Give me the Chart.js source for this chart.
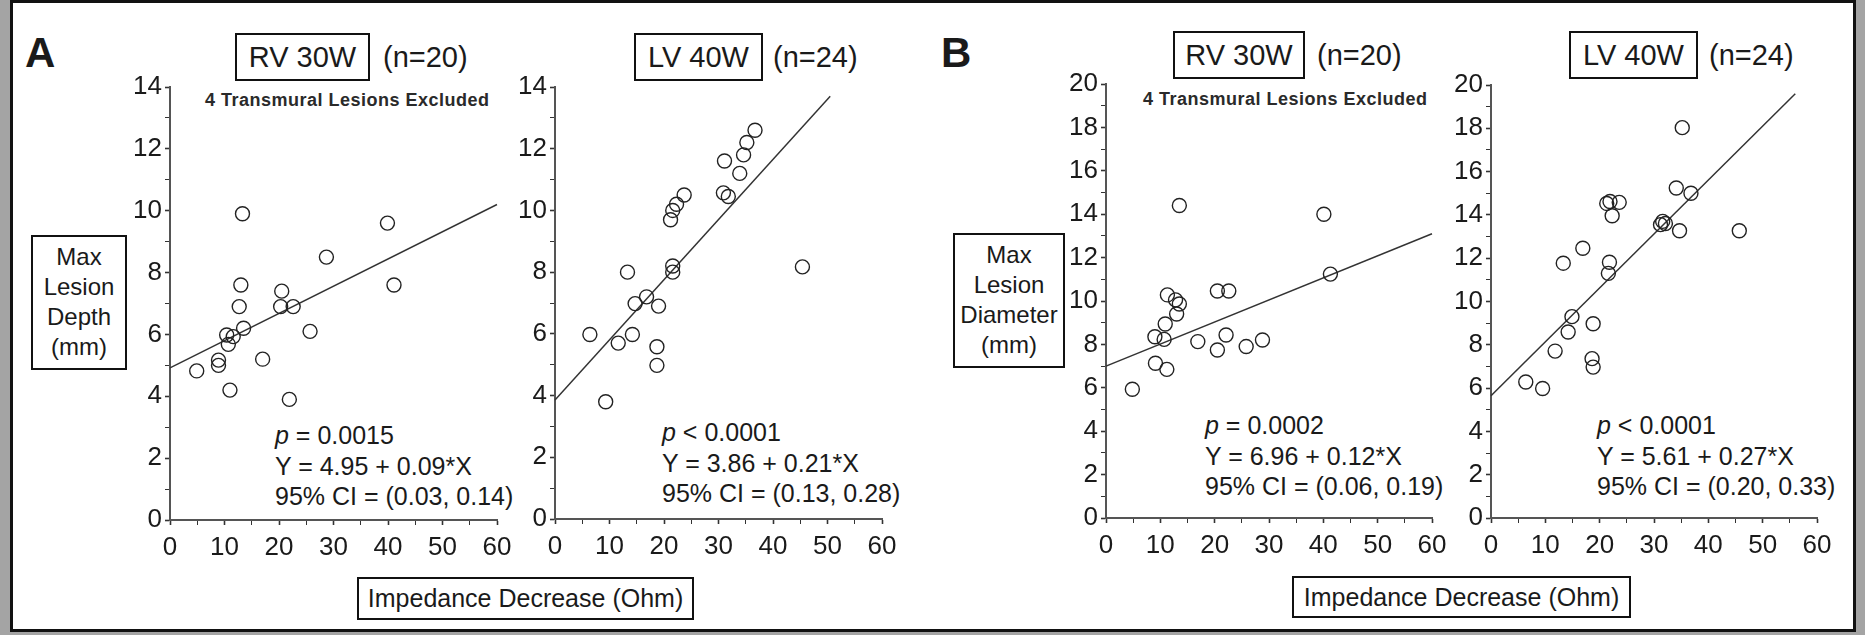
<!DOCTYPE html>
<html>
<head>
<meta charset="utf-8">
<script src="https://cdn.jsdelivr.net/npm/chart.js@4.4.1/dist/chart.umd.min.js"></script>
<style>
  html, body { margin: 0; padding: 0; }
  body { width: 1865px; height: 635px; background: #a4a4a4; position: relative; overflow: hidden;
         font-family: "Liberation Sans", Arial, sans-serif; color: #1a1a1a; }
  .frame { position: absolute; left: 10px; top: 0; width: 1846px; height: 632px; background: #fff;
           border: 3px solid #111; box-sizing: border-box; }
  .abs { position: absolute; white-space: nowrap; }
  .box { position: absolute; border: 2px solid #111; box-sizing: border-box; text-align: center; white-space: nowrap; }
  .title { font-size: 29px; line-height: 44px; }
  .n { font-size: 29px; line-height: 48px; height: 48px; }
  .letter { font-size: 42px; font-weight: bold; line-height: 42px; }
  .excl { font-size: 18px; font-weight: bold; line-height: 20px; letter-spacing: 0.5px; color: #2a2a2a; }
  .ytitle { font-size: 24px; line-height: 30px; padding-top: 5px; }
  .xtitle { font-size: 25px; line-height: 39px; }
  .stats { font-size: 25px; line-height: 30.5px; }
  canvas { position: absolute; }
</style>
</head>
<body>
<div class="frame"></div>

<div class="abs letter" style="left:25px; top:32px;">A</div>
<div class="abs letter" style="left:941px; top:32px;">B</div>

<div class="box title" style="left:235px; top:33px; width:135px; height:48px;">RV 30W</div>
<div class="abs n" style="left:383px; top:33px;">(n=20)</div>
<div class="box title" style="left:634px; top:33px; width:129px; height:48px;">LV 40W</div>
<div class="abs n" style="left:773px; top:33px;">(n=24)</div>
<div class="box title" style="left:1173px; top:31px; width:132px; height:48px;">RV 30W</div>
<div class="abs n" style="left:1317px; top:31px;">(n=20)</div>
<div class="box title" style="left:1569px; top:31px; width:129px; height:48px;">LV 40W</div>
<div class="abs n" style="left:1709px; top:31px;">(n=24)</div>

<div class="abs excl" style="left:205px; top:90px;">4 Transmural Lesions Excluded</div>
<div class="abs excl" style="left:1143px; top:89px;">4 Transmural Lesions Excluded</div>

<div class="box ytitle" style="left:31px; top:235px; width:96px; height:135px;">Max<br>Lesion<br>Depth<br>(mm)</div>
<div class="box ytitle" style="left:953px; top:233px; width:112px; height:135px;">Max<br>Lesion<br>Diameter<br>(mm)</div>

<div class="box xtitle" style="left:357px; top:577px; width:337px; height:43px;">Impedance Decrease (Ohm)</div>
<div class="box xtitle" style="left:1292px; top:576px; width:339px; height:42px;">Impedance Decrease (Ohm)</div>

<div class="abs stats" style="left:275px; top:420px;"><i>p</i> = 0.0015<br>Y = 4.95 + 0.09*X<br>95% CI = (0.03, 0.14)</div>
<div class="abs stats" style="left:662px; top:417px;"><i>p</i> &lt; 0.0001<br>Y = 3.86 + 0.21*X<br>95% CI = (0.13, 0.28)</div>
<div class="abs stats" style="left:1205px; top:410px;"><i>p</i> = 0.0002<br>Y = 6.96 + 0.12*X<br>95% CI = (0.06, 0.19)</div>
<div class="abs stats" style="left:1597px; top:410px;"><i>p</i> &lt; 0.0001<br>Y = 5.61 + 0.27*X<br>95% CI = (0.20, 0.33)</div>

<script>
// A: RV 30W, max lesion depth (mm) vs impedance decrease (Ohm)
const aRvImp   = [13.3, 39.9, 28.7, 13.0, 41.1, 20.5, 12.7, 20.3, 22.6, 13.5, 25.7, 10.4, 11.6, 10.7, 4.9, 8.9, 8.9, 11.0, 17.0, 21.9];
const aRvDepth = [9.9, 9.6, 8.5, 7.6, 7.6, 7.4, 6.9, 6.9, 6.9, 6.2, 6.1, 5.98, 5.93, 5.68, 4.82, 5.17, 5.0, 4.2, 5.2, 3.9];
const aRvFitX  = [0, 60];
const aRvFitY  = [4.92, 10.2];

// A: LV 40W
const aLvImp   = [36.7, 35.2, 34.6, 31.1, 33.9, 30.9, 31.8, 23.7, 22.3, 21.6, 21.2, 21.6, 21.6, 13.3, 45.4, 14.7, 16.8, 19.0, 6.4, 11.6, 14.2, 18.7, 18.7, 9.3];
const aLvDepth = [12.6, 12.2, 11.8, 11.6, 11.2, 10.57, 10.45, 10.5, 10.2, 10.0, 9.7, 8.2, 8.0, 8.0, 8.17, 6.98, 7.2, 6.9, 5.98, 5.7, 5.98, 5.58, 4.98, 3.8];
const aLvFitX  = [0, 50.5];
const aLvFitY  = [3.86, 13.7];

// B: RV 30W, max lesion diameter (mm)
const bRvImp   = [13.5, 40.1, 41.3, 20.5, 22.6, 11.3, 12.8, 13.5, 13.0, 10.9, 9.0, 10.7, 16.9, 22.1, 20.5, 25.8, 28.8, 9.1, 11.2, 4.85];
const bRvDiam  = [14.4, 14.0, 11.24, 10.46, 10.46, 10.28, 10.05, 9.86, 9.4, 8.94, 8.35, 8.23, 8.13, 8.43, 7.74, 7.9, 8.2, 7.13, 6.85, 5.93];
const bRvFitX  = [0, 60];
const bRvFitY  = [7.0, 13.1];

// B: LV 40W
const bLvImp   = [35.2, 34.1, 36.8, 21.3, 21.9, 23.6, 22.3, 31.2, 31.6, 32.1, 34.7, 45.7, 16.9, 13.3, 21.8, 21.6, 14.9, 14.2, 18.8, 11.8, 18.6, 18.8, 6.4, 9.5];
const bLvDiam  = [18.03, 15.24, 15.0, 14.53, 14.62, 14.58, 13.96, 13.55, 13.7, 13.6, 13.27, 13.27, 12.46, 11.77, 11.81, 11.3, 9.3, 8.59, 8.97, 7.71, 7.36, 6.97, 6.28, 5.98];
const bLvFitX  = [0, 56];
const bLvFitY  = [5.65, 19.6];

const xTicksMax = 60;

Chart.defaults.font.family = '"Liberation Sans", Arial, sans-serif';
Chart.defaults.color = '#1a1a1a';

const Y_W = 70, X_H = 50, PAD_T = 20, PAD_R = 30;

function toPoints(xs, ys) {
  return xs.map((x, i) => ({ x: x, y: ys[i] }));
}

function makePanel(area, xs, ys, fitX, fitY, yMax) {
  // area = [left, top, right, bottom] of the plot box on the page
  const canvas = document.createElement('canvas');
  const w = Y_W + (area[2] - area[0]) + PAD_R;
  const h = PAD_T + (area[3] - area[1]) + X_H;
  canvas.width = w;
  canvas.height = h;
  canvas.style.left = (area[0] - Y_W) + 'px';
  canvas.style.top = (area[1] - PAD_T) + 'px';
  document.body.appendChild(canvas);

  const axisGrid = {
    drawOnChartArea: false,
    drawTicks: true,
    tickLength: 5,
    color: '#333',
  };

  new Chart(canvas, {
    type: 'scatter',
    data: {
      datasets: [{
        data: toPoints(xs, ys),
        pointStyle: 'circle',
        pointRadius: 7,
        borderWidth: 1.4,
        borderColor: '#222',
        backgroundColor: 'rgba(0,0,0,0)',
        clip: false,
      }, {
        type: 'line',
        data: toPoints(fitX, fitY),
        borderColor: '#333',
        borderWidth: 1.5,
        pointRadius: 0,
        fill: false,
        clip: false,
      }]
    },
    options: {
      responsive: false,
      animation: false,
      events: [],
      layout: { padding: { top: PAD_T, right: PAD_R, left: 0, bottom: 0 } },
      plugins: { legend: { display: false }, tooltip: { enabled: false } },
      scales: {
        x: {
          type: 'linear',
          min: 0,
          max: xTicksMax,
          border: { display: true, color: '#555', width: 2 },
          grid: Object.assign({}, axisGrid, {
            tickWidth: (c) => (c.tick && c.tick.value % 10 === 0 ? 1.6 : 1),
          }),
          ticks: {
            stepSize: 5,
            autoSkip: false,
            maxRotation: 0,
            padding: 7,
            font: { size: 26 },
            callback: (v) => (v % 10 === 0 ? v : ''),
          },
          afterFit: (s) => { s.height = X_H; },
        },
        y: {
          type: 'linear',
          min: 0,
          max: yMax,
          border: { display: true, color: '#555', width: 2 },
          grid: Object.assign({}, axisGrid, {
            tickWidth: (c) => (c.tick && c.tick.value % 2 === 0 ? 1.6 : 1),
          }),
          ticks: {
            stepSize: 1,
            autoSkip: false,
            padding: 3,
            font: { size: 26 },
            callback: (v) => (v % 2 === 0 ? v : ''),
          },
          afterFit: (s) => { s.width = Y_W; },
        },
      },
    },
  });
}

makePanel([170, 87, 497, 520], aRvImp, aRvDepth, aRvFitX, aRvFitY, 14);
makePanel([555, 87, 882, 519], aLvImp, aLvDepth, aLvFitX, aLvFitY, 14);
makePanel([1106, 84, 1432, 518], bRvImp, bRvDiam, bRvFitX, bRvFitY, 20);
makePanel([1491, 85, 1817, 518], bLvImp, bLvDiam, bLvFitX, bLvFitY, 20);
</script>
</body>
</html>
